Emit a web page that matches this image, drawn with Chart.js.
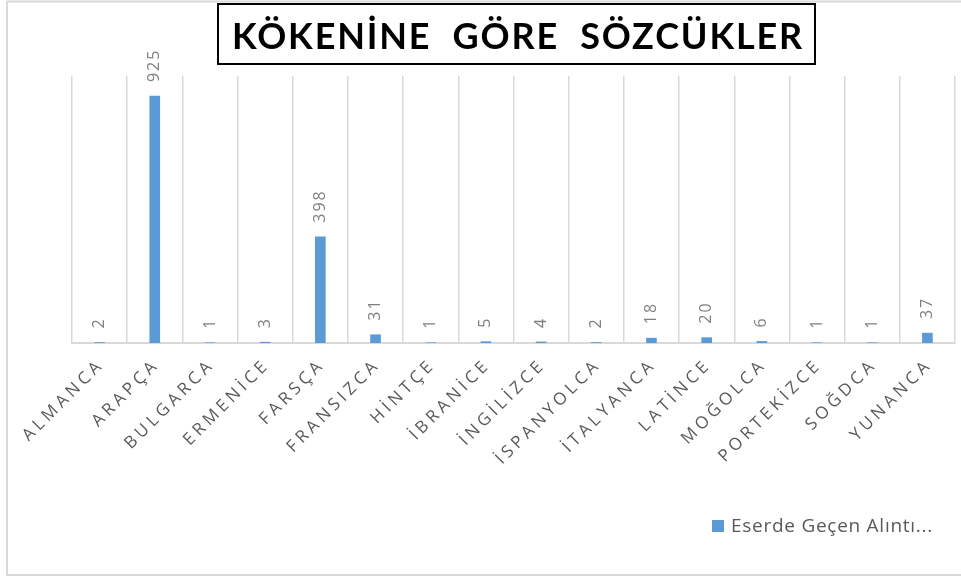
<!DOCTYPE html>
<html>
<head>
<meta charset="utf-8">
<script src="https://cdn.jsdelivr.net/npm/chart.js@4/dist/chart.umd.min.js"></script>
<style>
  html, body { margin: 0; padding: 0; background: #fff; }
  #wrap { width: 961px; height: 579px; }
</style>
</head>
<body>
<div id="wrap"><canvas id="chart" width="961" height="579"></canvas></div>
<script>
const categories = ['ALMANCA', 'ARAPÇA', 'BULGARCA', 'ERMENİCE', 'FARSÇA', 'FRANSIZCA', 'HİNTÇE', 'İBRANİCE',
    'İNGİLİZCE', 'İSPANYOLCA', 'İTALYANCA', 'LATİNCE', 'MOĞOLCA', 'PORTEKİZCE', 'SOĞDCA', 'YUNANCA'];
const counts = [2, 925, 1, 3, 398, 31, 1, 5, 4, 2, 18, 20, 6, 1, 1, 37];
const seriesName = 'Eserde Geçen Alıntı...';
const titleText = 'KÖKENİNE  GÖRE  SÖZCÜKLER';

const BLUE = '#5B9BD5';
const GRID = '#d9d9d9';

// spread text so it covers a given width
function fitSpacing(ctx, text, width) {
    ctx.letterSpacing = '0px';
    const w = ctx.measureText(text).width;
    ctx.letterSpacing = ((width - w) / text.length) + 'px';
}

// frame, title box, rotated labels, value labels and legend
const decor = {
    id: 'decor',
    beforeDraw(chart) {
        const ctx = chart.ctx;
        ctx.save();
        ctx.strokeStyle = GRID;
        ctx.lineWidth = 2;
        ctx.strokeRect(7, 1.5, 960, 573.5);
        ctx.restore();
    },
    afterDraw(chart) {
        const ctx = chart.ctx;
        const x = chart.scales.x;
        const meta = chart.getDatasetMeta(0);

        // title
        ctx.save();
        ctx.font = 'bold 36px Lato';
        ctx.fillStyle = '#000';
        ctx.textBaseline = 'alphabetic';
        fitSpacing(ctx, titleText, 572);
        ctx.textAlign = 'left';
        ctx.fillText(titleText, 232, 49);
        ctx.strokeStyle = '#000';
        ctx.lineWidth = 2;
        ctx.strokeRect(218, 4, 597, 60);
        ctx.restore();

        // category labels
        ctx.save();
        ctx.font = '17px "Open Sans"';
        ctx.fillStyle = '#595959';
        ctx.letterSpacing = '4px';
        ctx.textAlign = 'right';
        ctx.textBaseline = 'middle';
        categories.forEach((c, i) => {
            const cx = x.getPixelForValue(i);
            ctx.save();
            ctx.translate(cx + 2, 362);
            ctx.rotate(-Math.PI / 4);
            ctx.fillText(c, 0, 0);
            ctx.restore();
        });
        ctx.restore();

        // value labels
        ctx.save();
        ctx.font = '16px "Open Sans"';
        ctx.fillStyle = '#808080';
        ctx.letterSpacing = '2px';
        ctx.textAlign = 'left';
        ctx.textBaseline = 'middle';
        meta.data.forEach((bar, i) => {
            ctx.save();
            ctx.translate(bar.x, bar.y - 14);
            ctx.rotate(-Math.PI / 2);
            ctx.fillText(String(counts[i]), 0, 0);
            ctx.restore();
        });
        ctx.restore();

        // legend
        ctx.save();
        ctx.fillStyle = BLUE;
        ctx.fillRect(712, 520, 12, 12);
        ctx.font = '19px "Open Sans"';
        ctx.fillStyle = '#595959';
        ctx.textBaseline = 'middle';
        fitSpacing(ctx, chart.data.datasets[0].label, 202);
        ctx.fillText(chart.data.datasets[0].label, 731, 527);
        ctx.restore();
    }
};

new Chart(document.getElementById('chart'), {
    type: 'bar',
    data: {
        labels: categories,
        datasets: [{
            label: seriesName,
            data: counts,
            backgroundColor: BLUE,
            barThickness: 10
        }]
    },
    options: {
        responsive: false,
        animation: false,
        layout: { padding: { top: 76, left: 72, right: 6, bottom: 236 } },
        plugins: {
            legend: { display: false },
            title: { display: false },
            tooltip: { enabled: false }
        },
        scales: {
            x: {
                offset: true,
                grid: { offset: true, color: GRID, lineWidth: 1.5, drawTicks: false },
                border: { color: GRID, width: 2 },
                ticks: { display: false }
            },
            y: {
                display: false,
                min: 0,
                max: 1000
            }
        }
    },
    plugins: [decor]
});
</script>
</body>
</html>
